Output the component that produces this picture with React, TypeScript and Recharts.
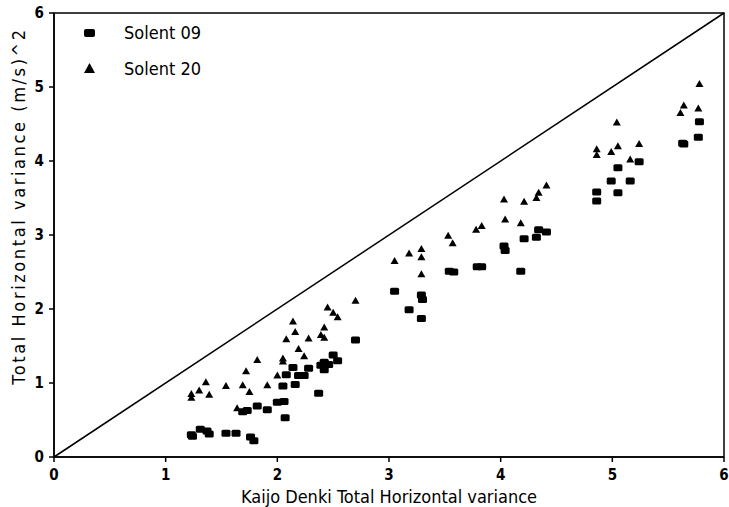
import { ScatterChart, Scatter, XAxis, YAxis, ReferenceArea, Legend, Label } from 'recharts';

const solent09X = [
  1.23, 1.24, 1.31, 1.37, 1.39, 1.54, 1.63, 1.76, 1.79, 1.69, 1.73, 1.82, 1.91, 2.0, 2.06, 2.07,
  2.05, 2.08, 2.14, 2.16, 2.19, 2.24, 2.28, 2.37, 2.39, 2.42, 2.46, 2.42, 2.5, 2.54, 2.7,
  3.05, 3.18, 3.29, 3.3, 3.29, 3.54, 3.58, 3.79, 3.83, 4.03, 4.04, 4.18, 4.21, 4.32, 4.34, 4.41,
  4.86, 4.86, 4.99, 5.05, 5.05, 5.16, 5.24, 5.63, 5.64, 5.77, 5.78,
];
const solent09Y = [
  0.3, 0.28, 0.375, 0.35, 0.31, 0.32, 0.32, 0.27, 0.22, 0.61, 0.63, 0.69, 0.64, 0.74, 0.75, 0.53,
  0.96, 1.11, 1.21, 0.98, 1.1, 1.1, 1.2, 0.86, 1.24, 1.28, 1.25, 1.18, 1.38, 1.3, 1.58,
  2.24, 1.99, 2.19, 2.13, 1.87, 2.51, 2.5, 2.57, 2.57, 2.85, 2.79, 2.51, 2.95, 2.97, 3.07, 3.04,
  3.46, 3.58, 3.73, 3.91, 3.57, 3.73, 3.99, 4.24, 4.23, 4.32, 4.53,
];
const solent20X = [
  1.23, 1.23, 1.3, 1.36, 1.39, 1.54, 1.64, 1.69, 1.72, 1.75, 1.82, 1.91, 2.0, 2.05, 2.05, 2.08,
  2.14, 2.16, 2.19, 2.24, 2.28, 2.39, 2.42, 2.42, 2.45, 2.5, 2.54, 2.7,
  3.05, 3.18, 3.29, 3.29, 3.29, 3.53, 3.57, 3.78, 3.83, 4.03, 4.04, 4.18, 4.21, 4.32, 4.34, 4.41,
  4.86, 4.86, 4.99, 5.04, 5.05, 5.16, 5.24, 5.61, 5.64, 5.77, 5.78,
];
const solent20Y = [
  0.85, 0.8, 0.9, 1.01, 0.84, 0.96, 0.66, 0.97, 1.16, 0.88, 1.31, 0.97, 1.1, 1.33, 1.29, 1.59,
  1.83, 1.69, 1.46, 1.36, 1.6, 1.65, 1.61, 1.75, 2.02, 1.95, 1.89, 2.11,
  2.65, 2.75, 2.81, 2.7, 2.47, 2.99, 2.89, 3.07, 3.12, 3.48, 3.21, 3.16, 3.45, 3.5, 3.57, 3.67,
  4.16, 4.08, 4.12, 4.52, 4.2, 4.02, 4.23, 4.65, 4.75, 4.71, 5.04,
];
const diagonalX = [0, 6];
const diagonalY = [0, 6];
const axisTicks = [0, 1, 2, 3, 4, 5, 6];

const zip = (xs: number[], ys: number[]) => xs.map((x, i) => ({ x, y: ys[i] }));

const solent09 = zip(solent09X, solent09Y);
const solent20 = zip(solent20X, solent20Y);
const diagonal = zip(diagonalX, diagonalY);

const FONT = '"DejaVu Sans Condensed", "DejaVu Sans", sans-serif';
const TICK = { fill: '#000', fontSize: 15, fontWeight: 'bold', fontFamily: FONT };

const SquareDot = (props: any) => {
  const { cx, cy } = props;
  return <rect x={cx - 4.5} y={cy - 3.5} width={9} height={7} rx={1.5} fill="#000" />;
};

const TriangleDot = (props: any) => {
  const { cx, cy } = props;
  return <path d={`M${cx},${cy - 4} L${cx + 4},${cy + 3} L${cx - 4},${cy + 3} Z`} fill="#000" />;
};

const LegendBox = () => (
  <div style={{ fontFamily: FONT, fontSize: 18, color: '#000', textAlign: 'left' }}>
    {[
      { name: 'Solent 09', icon: <rect x={0} y={2} width={11} height={8} rx={2} fill="#000" /> },
      { name: 'Solent 20', icon: <path d="M5.5,0 L11,10 L0,10 Z" fill="#000" /> },
    ].map((item) => (
      <div key={item.name} style={{ display: 'flex', alignItems: 'center', height: 36 }}>
        <svg width={11} height={11} style={{ marginRight: 29 }}>
          {item.icon}
        </svg>
        <span>{item.name}</span>
      </div>
    ))}
  </div>
);

const YTitle = () => (
  <text
    x={20}
    y={206}
    transform="rotate(-90, 20, 206)"
    textAnchor="middle"
    dominantBaseline="middle"
    fontFamily={FONT}
    fontSize={18}
    letterSpacing={2.6}
    fill="#000"
  >
    Total Horizontal variance (m/s)^2
  </text>
);

export default function App() {
  return (
    <div style={{ position: 'absolute', left: 0, top: 0, background: '#fff' }}>
      <ScatterChart width={729} height={507} margin={{ top: 13, right: 5, bottom: 0, left: 0 }}>
        <XAxis
          type="number"
          dataKey="x"
          domain={[0, 6]}
          ticks={axisTicks}
          interval={0}
          height={50}
          axisLine={{ stroke: '#000', strokeWidth: 1.5 }}
          tickLine={{ stroke: '#000', strokeWidth: 1.5 }}
          tickSize={5}
          tickMargin={7}
          tick={TICK}
        >
          <Label
            value="Kaijo Denki Total Horizontal variance"
            position="insideBottom"
            offset={4}
            style={{ fill: '#000', fontSize: 18, fontFamily: FONT }}
          />
        </XAxis>
        <YAxis
          type="number"
          dataKey="y"
          domain={[0, 6]}
          ticks={axisTicks}
          interval={0}
          width={54}
          axisLine={{ stroke: '#000', strokeWidth: 1.5 }}
          tickLine={{ stroke: '#000', strokeWidth: 1.5 }}
          tickSize={5}
          tickMargin={5}
          tick={TICK}
        >
          <Label content={<YTitle />} />
        </YAxis>
        <ReferenceArea x1={0} x2={6} y1={0} y2={6} fill="none" stroke="#000" strokeWidth={1.5} />
        <Legend
          verticalAlign="middle"
          align="center"
          layout="horizontal"
          content={<LegendBox />}
          wrapperStyle={{ top: 14, left: 84, width: 'auto', height: 'auto' }}
        />
        <Scatter
          name="diagonal"
          data={diagonal}
          line={{ stroke: '#000', strokeWidth: 1.5 }}
          shape={() => <g />}
          legendType="none"
          isAnimationActive={false}
        />
        <Scatter name="Solent 09" data={solent09} shape={<SquareDot />} isAnimationActive={false} />
        <Scatter name="Solent 20" data={solent20} shape={<TriangleDot />} isAnimationActive={false} />
      </ScatterChart>
    </div>
  );
}
